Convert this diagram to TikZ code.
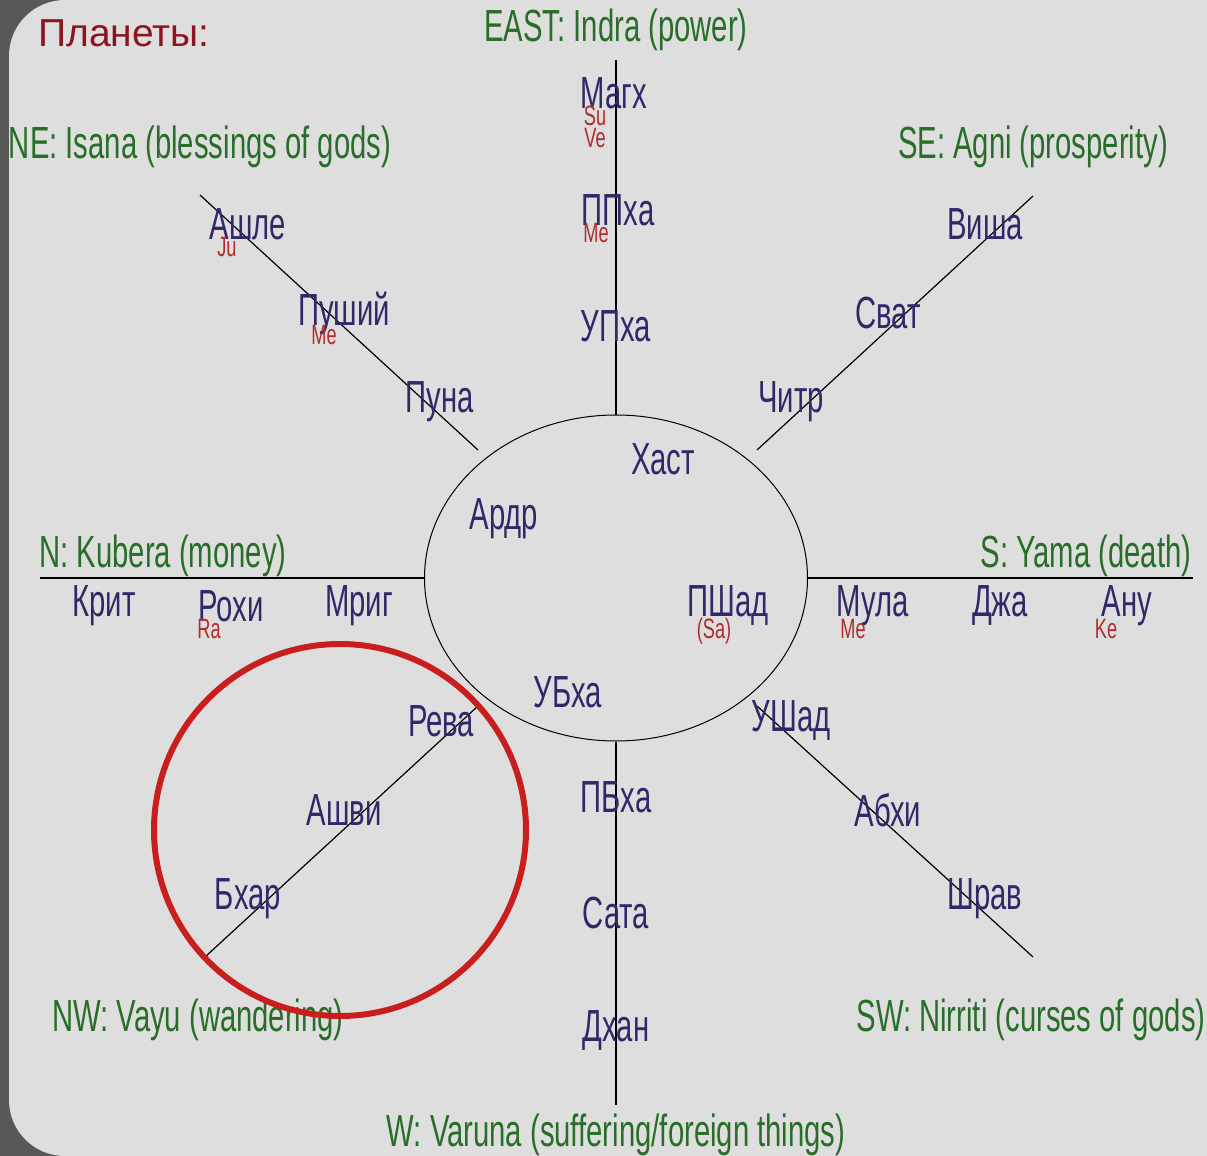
\documentclass[tikz,border=0pt]{standalone}
\usepackage{fontspec}
\setmainfont{Liberation Sans}
\newfontfamily\narrowfont{Liberation Sans}[FakeStretch=0.65]
\usepackage{xcolor}
\usepackage{tikz}
\usetikzlibrary{shapes.geometric,positioning}

\definecolor{bggray}{RGB}{222,222,222}
\definecolor{edgegray}{RGB}{88,88,88}
\definecolor{dirgreen}{RGB}{40,110,40}
\definecolor{naknavy}{RGB}{50,40,105}
\definecolor{planred}{RGB}{175,45,45}
\definecolor{titlered}{RGB}{140,20,30}
\definecolor{ringred}{RGB}{200,30,30}

\begin{document}
\begin{tikzpicture}[
    x=0.5pt, y=-0.5pt,
    dir/.style   = {text=dirgreen, font=\narrowfont\fontsize{22.5}{25}\selectfont,
                    inner sep=0pt},
    nak/.style   = {text=naknavy, font=\narrowfont\fontsize{22.5}{25}\selectfont,
                    inner sep=0pt},
    plan/.style  = {text=planred, font=\narrowfont\fontsize{14}{14}\selectfont,
                    inner sep=0pt},
    spoke/.style = {line width=0.6pt},
]

% ============ Background ============
\useasboundingbox (0,0) rectangle (1207,1156);
\clip (0,0) rectangle (1207,1156);
\fill[edgegray] (0,0) rectangle (1207,1156);
\fill[bggray, rounded corners=28pt] (9,0) rectangle (1300,1156);

% ============ Centre and spokes ============
\node[draw, ellipse, line width=0.5pt, inner sep=0pt,
      minimum width=191.5pt, minimum height=163pt] (chakra) at (616,578) {};

\coordinate (e end)  at (616,60);
\coordinate (w end)  at (616,1105);
\coordinate (n end)  at (40,578);
\coordinate (s end)  at (1193,578);
\coordinate (ne out) at (200,195);   \coordinate (ne in) at (478,450);
\coordinate (se out) at (1033,196);  \coordinate (se in) at (757,450);
\coordinate (nw out) at (205,957);   \coordinate (nw in) at (478,706);
\coordinate (sw out) at (1033,957);  \coordinate (sw in) at (757,706);

\draw[spoke] (e end) -- (chakra.north);
\draw[spoke] (chakra.south) -- (w end);
\draw[spoke] (n end) -- (chakra.west);
\draw[spoke] (chakra.east) -- (s end);
\draw[spoke] (ne out) -- (ne in);
\draw[spoke] (se out) -- (se in);
\draw[spoke] (nw out) -- (nw in);
\draw[spoke] (sw out) -- (sw in);

% ============ Directions ============
\node[font=\fontsize{19.5}{22}\selectfont, text=titlered, inner sep=0pt,
      anchor=west] (title) at (38,33) {Планеты:};
\node[dir] (east) at (616,30)   {EAST: Indra (power)};
\node[dir] (ne)   at (200,147)  {NE: Isana (blessings of gods)};
\node[dir] (se)   at (1033,147) {SE: Agni (prosperity)};
\node[dir] (n)    at (163,556)  {N: Kubera (money)};
\node[dir] (s)    at (1086,556) {S: Yama (death)};
\node[dir] (nw)   at (198,1020) {NW: Vayu (wandering)};
\node[dir] (sw)   at (1031,1020) {SW: Nirriti (curses of gods)};
\node[dir] (w)    at (616,1135) {W: Varuna (suffering/foreign things)};

% ============ Nakshatras: east spoke ============
\node[nak] (magha) at (614,93)  {Магх};
\node[nak] (pphal) at (618,210) {ППха};
\node[nak] (uphal) at (616,326) {УПха};

% ============ NE and SE spokes ============
\node[nak] (ashle)  at (248,224) {Ашле};
\node[nak] (pushya) at (344,313) {Пуший};
\node[nak] (puna)   at (440,402) {Пуна};
\node[nak] (visha)  at (985,224) {Виша};
\node[nak] (svati)  at (888,313) {Сват};
\node[nak] (chitra) at (791,402) {Читр};

% ============ Inside the centre ============
\node[nak] (hasta) at (663,459) {Хаст};
\node[nak] (ardra) at (504,519) {Ардр};
\node[nak] (pshad) at (728,606) {ПШад};
\node[nak] (ubha)  at (568,692) {УБха};

% ============ North and south spokes ============
\node[nak] (krit) at (104,606)  {Крит};
\node[nak] (rohi) at (231,606)  {Рохи};
\node[nak] (mrig) at (359,606)  {Мриг};
\node[nak] (mula) at (873,606)  {Мула};
\node[nak] (dzha) at (1000,606) {Джа};
\node[nak] (anu)  at (1127,606) {Ану};

% ============ NW, SW and west spokes ============
\node[nak] (reva)  at (441,721) {Рева};
\node[nak] (ashvi) at (344,810) {Ашви};
\node[nak] (bhar)  at (248,899) {Бхар};
\node[nak] (ushad) at (791,721) {УШад};
\node[nak] (abhi)  at (888,810) {Абхи};
\node[nak] (shrav) at (985,899) {Шрав};
\node[nak] (pbha)  at (616,797) {ПБха};
\node[nak] (sata)  at (616,913) {Сата};
\node[nak] (dhan)  at (616,1030) {Дхан};

% ============ Planets ============
\node[plan] (su) at (595,116) {Su};
\node[plan, below=1pt of su] (ve) {Ve};
\node[plan] (me1) at (596,233)  {Me};
\node[plan] (ju)  at (227,247)  {Ju};
\node[plan] (me2) at (324,335)  {Me};
\node[plan] (sa)  at (714,631)  {(Sa)};
\node[plan] (ra)  at (209,629)  {Ra};
\node[plan] (me3) at (853,629)  {Me};
\node[plan] (ke)  at (1106,629) {Ke};

% ============ Highlight ring ============
\node[draw=ringred, line width=3pt, circle, inner sep=0pt,
      minimum size=186pt] (ring) at (340,830) {};

\end{tikzpicture}
\end{document}
